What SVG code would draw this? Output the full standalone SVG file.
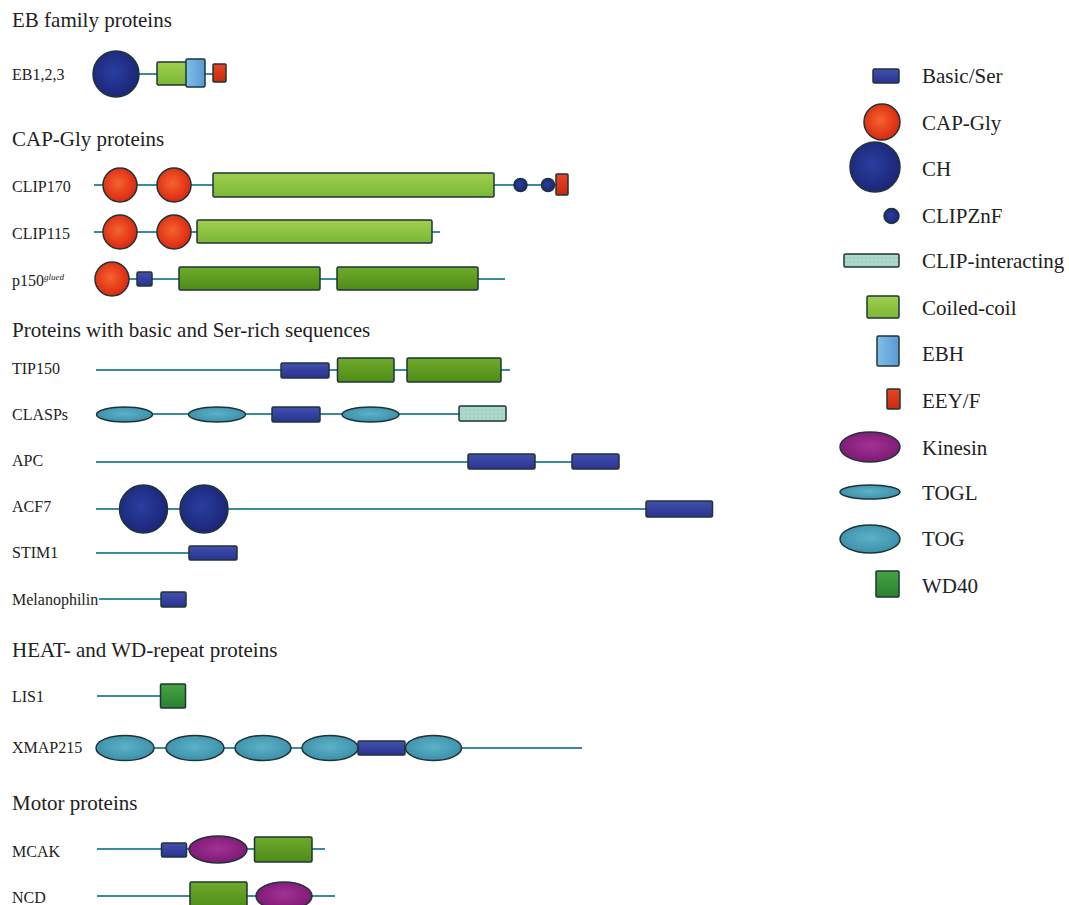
<svg xmlns="http://www.w3.org/2000/svg" width="1069" height="905" viewBox="0 0 1069 905">
<style>
text{font-family:"Liberation Serif","Times New Roman",serif;fill:#222}
.h{font-size:21px}
.l{font-size:16px}
.lg{font-size:21px}
.bb{stroke:#3a8c9c;stroke-width:2;fill:none}
.d{stroke:#1e3436;stroke-width:1.5}
.cap{fill:url(#gCap)}
.ch{fill:url(#gCH)}
.cc{fill:url(#gCC)}
.cc2{fill:url(#gCC2)}
.bs{fill:url(#gBS)}
.tog{fill:url(#gTOG)}
.kin{fill:url(#gKin)}
.ebh{fill:url(#gEBH)}
.eey{fill:url(#gEEY)}
.wd{fill:url(#gWD)}
.ci{fill:url(#pCI)}
.zn{fill:url(#gCH)}
</style>
<defs>
<radialGradient id="gCap" cx="0.45" cy="0.45" r="0.6"><stop offset="0" stop-color="#f4642e"/><stop offset="1" stop-color="#d8220e"/></radialGradient>
<radialGradient id="gCH" cx="0.45" cy="0.45" r="0.6"><stop offset="0" stop-color="#2a3ea0"/><stop offset="1" stop-color="#1a2474"/></radialGradient>
<linearGradient id="gCC" x1="0" y1="0" x2="0" y2="1"><stop offset="0" stop-color="#9fd04e"/><stop offset="1" stop-color="#7cb636"/></linearGradient>
<linearGradient id="gCC2" x1="0" y1="0" x2="0" y2="1"><stop offset="0" stop-color="#6eaa2a"/><stop offset="1" stop-color="#4f8c18"/></linearGradient>
<linearGradient id="gBS" x1="0" y1="0" x2="0" y2="1"><stop offset="0" stop-color="#4250ae"/><stop offset="1" stop-color="#2a3290"/></linearGradient>
<radialGradient id="gTOG" cx="0.5" cy="0.45" r="0.6"><stop offset="0" stop-color="#5cb2c8"/><stop offset="1" stop-color="#3a8ca6"/></radialGradient>
<radialGradient id="gKin" cx="0.5" cy="0.45" r="0.6"><stop offset="0" stop-color="#a23294"/><stop offset="1" stop-color="#7c1672"/></radialGradient>
<linearGradient id="gEBH" x1="0" y1="0" x2="1" y2="0"><stop offset="0" stop-color="#80bdea"/><stop offset="1" stop-color="#5a9ad2"/></linearGradient>
<linearGradient id="gEEY" x1="0" y1="0" x2="0" y2="1"><stop offset="0" stop-color="#ea4422"/><stop offset="1" stop-color="#c82a10"/></linearGradient>
<linearGradient id="gWD" x1="0" y1="0" x2="0" y2="1"><stop offset="0" stop-color="#44a444"/><stop offset="1" stop-color="#2a8030"/></linearGradient>
<pattern id="pCI" width="4" height="4" patternUnits="userSpaceOnUse"><rect width="4" height="4" fill="#acd8cc"/><circle cx="2" cy="2" r="0.7" fill="#8cbcb0"/></pattern>
</defs>
<rect width="1069" height="905" fill="#ffffff"/>

<g id="headings">
<text class="h" x="12" y="27">EB family proteins</text>
<text class="h" x="12" y="146">CAP-Gly proteins</text>
<text class="h" x="12" y="337">Proteins with basic and Ser-rich sequences</text>
<text class="h" x="12" y="657">HEAT- and WD-repeat proteins</text>
<text class="h" x="12" y="810">Motor proteins</text>
</g>

<g id="connectors">
<line class="bb" x1="139" y1="74" x2="213" y2="74"/>
<line class="bb" x1="94" y1="185" x2="556" y2="185"/>
<line class="bb" x1="94" y1="232" x2="440" y2="232"/>
<line class="bb" x1="129" y1="279" x2="505" y2="279"/>
<line class="bb" x1="96" y1="370" x2="510" y2="370"/>
<line class="bb" x1="96" y1="414" x2="460" y2="414"/>
<line class="bb" x1="96" y1="462" x2="572" y2="462"/>
<line class="bb" x1="96" y1="509" x2="646" y2="509"/>
<line class="bb" x1="96" y1="553" x2="190" y2="553"/>
<line class="bb" x1="99" y1="599" x2="162" y2="599"/>
<line class="bb" x1="97" y1="696" x2="161" y2="696"/>
<line class="bb" x1="96" y1="748" x2="582" y2="748"/>
<line class="bb" x1="97" y1="849" x2="325" y2="849"/>
<line class="bb" x1="97" y1="896" x2="335" y2="896"/>
</g>

<g id="EB123">
<text class="l" x="12" y="80">EB1,2,3</text>
<circle class="d ch" cx="116" cy="74" r="23"/>
<rect class="d cc" x="157" y="62" width="30" height="23" rx="1.5"/>
<rect class="d ebh" x="186" y="59" width="19" height="28" rx="1.5"/>
<rect class="d eey" x="213" y="64" width="13" height="18" rx="1"/>
</g>

<g id="CLIP170">
<text class="l" x="12" y="192">CLIP170</text>
<circle class="d cap" cx="120" cy="185" r="17"/>
<circle class="d cap" cx="174" cy="185" r="17"/>
<rect class="d cc" x="213" y="173" width="281" height="24" rx="1.5"/>
<circle class="d zn" cx="520.5" cy="185" r="6.5"/>
<circle class="d zn" cx="548" cy="185" r="6.5"/>
<rect class="d eey" x="556" y="174" width="12" height="21" rx="1"/>
</g>

<g id="CLIP115">
<text class="l" x="12" y="239">CLIP115</text>
<circle class="d cap" cx="120" cy="232" r="17"/>
<circle class="d cap" cx="174" cy="232" r="17"/>
<rect class="d cc" x="197" y="220" width="235" height="23" rx="1.5"/>
</g>

<g id="p150">
<text class="l" x="12" y="286">p150<tspan font-size="9" font-style="italic" dy="-6">glued</tspan></text>
<circle class="d cap" cx="112" cy="279" r="17"/>
<rect class="d bs" x="137" y="272" width="15" height="14" rx="1.5"/>
<rect class="d cc2" x="179" y="267" width="141" height="23" rx="1.5"/>
<rect class="d cc2" x="337" y="267" width="141" height="23" rx="1.5"/>
</g>

<g id="TIP150">
<text class="l" x="12" y="374">TIP150</text>
<rect class="d bs" x="281" y="363" width="48" height="15" rx="1.5"/>
<rect class="d cc2" x="337.5" y="358" width="56.5" height="24" rx="1.5"/>
<rect class="d cc2" x="407" y="358" width="94" height="24" rx="1.5"/>
</g>

<g id="CLASPs">
<text class="l" x="12" y="420">CLASPs</text>
<ellipse class="d tog" cx="124.5" cy="414.5" rx="28" ry="7.5"/>
<ellipse class="d tog" cx="217" cy="414.5" rx="28.5" ry="7.5"/>
<rect class="d bs" x="272" y="407" width="48" height="15" rx="1.5"/>
<ellipse class="d tog" cx="370.5" cy="414.5" rx="28.5" ry="7.5"/>
<rect class="d ci" x="459" y="406" width="47" height="15" rx="1.5"/>
</g>

<g id="APC">
<text class="l" x="12" y="466">APC</text>
<rect class="d bs" x="468" y="454" width="67" height="15" rx="1.5"/>
<rect class="d bs" x="572" y="454" width="47" height="15" rx="1.5"/>
</g>

<g id="ACF7">
<text class="l" x="12" y="512">ACF7</text>
<circle class="d ch" cx="143.5" cy="509" r="24"/>
<circle class="d ch" cx="204" cy="509" r="24"/>
<rect class="d bs" x="646" y="501" width="66.5" height="16" rx="1.5"/>
</g>

<g id="STIM1">
<text class="l" x="12" y="558">STIM1</text>
<rect class="d bs" x="189" y="546" width="48" height="14" rx="1.5"/>
</g>

<g id="Melanophilin">
<text class="l" x="12" y="605">Melanophilin</text>
<rect class="d bs" x="161" y="592" width="25" height="15" rx="1.5"/>
</g>

<g id="LIS1">
<text class="l" x="12" y="702">LIS1</text>
<rect class="d wd" x="160.5" y="684" width="25" height="24" rx="1"/>
</g>

<g id="XMAP215">
<text class="l" x="12" y="753">XMAP215</text>
<ellipse class="d tog" cx="125" cy="748" rx="29" ry="12.5"/>
<ellipse class="d tog" cx="195" cy="748" rx="29" ry="12.5"/>
<ellipse class="d tog" cx="263" cy="748" rx="28" ry="12.5"/>
<ellipse class="d tog" cx="330" cy="748" rx="28" ry="12.5"/>
<rect class="d bs" x="358" y="741" width="47" height="14" rx="1.5"/>
<ellipse class="d tog" cx="433.5" cy="748" rx="28" ry="12.5"/>
</g>

<g id="MCAK">
<text class="l" x="12" y="857">MCAK</text>
<rect class="d bs" x="161.5" y="843" width="25" height="14" rx="1.5"/>
<ellipse class="d kin" cx="218" cy="849.5" rx="29" ry="13.5"/>
<rect class="d cc2" x="254.5" y="837" width="57.5" height="25" rx="1.5"/>
</g>

<g id="NCD">
<text class="l" x="12" y="903">NCD</text>
<rect class="d cc2" x="190" y="882" width="57" height="27" rx="1.5"/>
<ellipse class="d kin" cx="284" cy="896" rx="28" ry="14"/>
</g>

<g id="legend">
<g id="lg-basic"><rect class="d bs" x="873" y="69" width="26" height="14" rx="1.5"/><text class="lg" x="922" y="83">Basic/Ser</text></g>
<g id="lg-capgly"><circle class="d cap" cx="882" cy="122" r="18"/><text class="lg" x="922" y="130">CAP-Gly</text></g>
<g id="lg-ch"><circle class="d ch" cx="875" cy="167" r="25"/><text class="lg" x="922" y="176">CH</text></g>
<g id="lg-clipznf"><circle class="d zn" cx="891.5" cy="216" r="7.5"/><text class="lg" x="922" y="223">CLIPZnF</text></g>
<g id="lg-clipint"><rect class="d ci" x="844" y="254" width="55" height="13" rx="1.5"/><text class="lg" x="922" y="268">CLIP-interacting</text></g>
<g id="lg-coiled"><rect class="d cc" x="867" y="296" width="32" height="22" rx="1.5"/><text class="lg" x="922" y="315">Coiled-coil</text></g>
<g id="lg-ebh"><rect class="d ebh" x="877" y="336" width="22" height="30" rx="1.5"/><text class="lg" x="922" y="361">EBH</text></g>
<g id="lg-eey"><rect class="d eey" x="887" y="389" width="13" height="20" rx="1"/><text class="lg" x="922" y="408">EEY/F</text></g>
<g id="lg-kinesin"><ellipse class="d kin" cx="870" cy="447" rx="30" ry="15"/><text class="lg" x="922" y="455">Kinesin</text></g>
<g id="lg-togl"><ellipse class="d tog" cx="870" cy="492" rx="30" ry="7"/><text class="lg" x="922" y="500">TOGL</text></g>
<g id="lg-tog"><ellipse class="d tog" cx="870" cy="539" rx="30" ry="14"/><text class="lg" x="922" y="546">TOG</text></g>
<g id="lg-wd40"><rect class="d wd" x="876" y="571" width="23" height="26" rx="1"/><text class="lg" x="922" y="593">WD40</text></g>
</g>
</svg>
